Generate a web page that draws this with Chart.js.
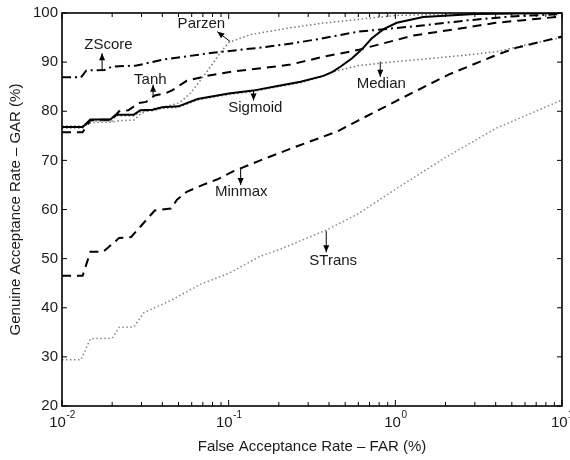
<!DOCTYPE html>
<html>
<head>
<meta charset="utf-8">
<script src="https://cdn.jsdelivr.net/npm/chart.js@4/dist/chart.umd.min.js"></script>
<style>
html,body{margin:0;padding:0;background:#fff;}
#wrap{width:570px;height:460px;}
</style>
</head>
<body>
<div id="wrap"><canvas id="c" width="570" height="460"></canvas></div>
<script>
// ---- data (FAR in %, GAR in %) ----
const sigmoidFAR = [0.01,0.0133,0.0148,0.0195,0.021,0.027,0.0295,0.035,0.04,0.05,0.065,0.1,0.14,0.2,0.27,0.37,0.42,0.47,0.55,0.63,0.72,0.85,1.02,1.47,3,10];
const sigmoidGAR = [76.8,76.8,78.3,78.3,79.3,79.3,80.2,80.3,80.8,81.0,82.5,83.6,84.2,85.2,86.0,87.2,88.0,89.1,90.8,92.6,94.8,96.7,98.0,99.2,99.8,100];

const tanhFAR = [0.01,0.0133,0.0148,0.02,0.022,0.025,0.029,0.032,0.036,0.042,0.046,0.056,0.074,0.107,0.16,0.235,0.36,0.6,1.28,2.4,4,10];
const tanhGAR = [75.7,75.7,78.2,78.3,80.0,80.2,81.7,81.9,83.2,83.7,84.3,86.2,87.2,88.1,88.8,89.5,91.0,92.5,95.4,96.8,98.0,99.3];

const zscoreFAR = [0.01,0.013,0.014,0.018,0.02,0.028,0.04,0.08,0.15,0.25,0.36,0.6,1.4,2.7,5,10];
const zscoreGAR = [86.9,86.9,88.3,88.4,89.1,89.3,90.5,91.9,92.9,93.9,94.8,96.2,97.4,98.5,99.3,99.8];

const parzenFAR = [0.01,0.0133,0.015,0.02,0.022,0.027,0.03,0.036,0.045,0.051,0.059,0.068,0.078,0.089,0.1,0.135,0.235,0.36,1,3,10];
const parzenGAR = [77.0,77.0,77.7,77.8,78.1,78.2,79.6,80.6,81.2,81.8,83.7,86.4,89.1,91.9,94.0,95.6,97.0,97.9,99.5,99.9,100];

const medianFAR = [0.01,0.0133,0.0148,0.02,0.021,0.027,0.03,0.035,0.04,0.05,0.065,0.1,0.14,0.2,0.27,0.35,0.42,0.6,1.0,1.7,2.6,4.2,6,10];
const medianGAR = [76.6,76.6,78.0,78.0,79.1,79.1,80.0,80.1,80.6,80.8,82.3,83.4,84.0,85.0,85.8,86.9,88.0,89.3,90.1,90.8,91.4,92.2,93.5,95.0];

const minmaxFAR = [0.01,0.0133,0.0148,0.0177,0.022,0.026,0.036,0.045,0.049,0.056,0.07,0.085,0.107,0.155,0.24,0.45,0.59,1.07,2.1,3.8,5.3,10];
const minmaxGAR = [46.5,46.5,51.4,51.4,54.2,54.4,59.8,60.2,62.0,63.6,65.0,66.1,67.8,70.0,72.5,75.9,78.0,82.5,87.5,91.1,92.9,95.2];

const stransFAR = [0.01,0.013,0.0148,0.02,0.022,0.027,0.031,0.045,0.068,0.1,0.155,0.2,0.385,0.59,1.0,2.0,4,10];
const stransGAR = [29.4,29.4,33.7,33.8,36.0,36.1,39.0,41.5,44.8,47.0,50.5,51.8,55.8,59.0,64.1,70.6,76.5,82.3];

const xMajorTicks = [0.01, 0.1, 1, 10];
const xMajorExp = ['-2', '-1', '0', '1'];
const xMinorMantissas = [2,3,4,5,6,7,8,9];
const yTicks = [20,30,40,50,60,70,80,90,100];

// annotation texts with arrow (data coordinates)
const notes = [
  {text:'ZScore',  tx:0.019,  ty:93.5, from:[0.0174,88.4], to:[0.0174,91.8]},
  {text:'Parzen',  tx:0.0686, ty:97.8, from:[0.102,94.2],  to:[0.0855,96.2]},
  {text:'Tanh',    tx:0.0339, ty:86.4, from:[0.0352,83.0], to:[0.0352,85.4]},
  {text:'Sigmoid', tx:0.1445, ty:80.7, from:[0.141,84.2],  to:[0.141,82.2]},
  {text:'Median',  tx:0.823,  ty:85.6, from:[0.812,90.1],  to:[0.812,87.0]},
  {text:'Minmax',  tx:0.119,  ty:63.6, from:[0.118,68.5],  to:[0.118,65.0]},
  {text:'STrans',  tx:0.424,  ty:49.5, from:[0.385,55.6],  to:[0.385,51.3]}
];

const pts = (xs, ys) => xs.map((x, i) => ({x: x, y: ys[i]}));
const FONT = "'Liberation Sans', Arial, Helvetica, sans-serif";
const TXT = '#1a1a1a';

const decor = {
  id: 'decor',
  afterDatasetsDraw(chart) {
    const {ctx, chartArea: a, scales: {x, y}} = chart;
    ctx.save();
    // frame
    ctx.strokeStyle = '#000';
    ctx.lineWidth = 1.6;
    ctx.strokeRect(a.left, a.top, a.right - a.left, a.bottom - a.top);
    // tick marks
    ctx.lineWidth = 1;
    const seg = (x0, y0, x1, y1) => { ctx.beginPath(); ctx.moveTo(x0, y0); ctx.lineTo(x1, y1); ctx.stroke(); };
    xMajorTicks.forEach((v, i) => {
      const px = x.getPixelForValue(v);
      seg(px, a.bottom, px, a.bottom - 6);
      seg(px, a.top, px, a.top + 6);
      if (i < xMajorTicks.length - 1) {
        xMinorMantissas.forEach(m => {
          const q = x.getPixelForValue(v * m);
          seg(q, a.bottom, q, a.bottom - 4);
          seg(q, a.top, q, a.top + 4);
        });
      }
    });
    yTicks.forEach(v => {
      const py = y.getPixelForValue(v);
      seg(a.left, py, a.left + 5, py);
      seg(a.right, py, a.right - 5, py);
    });
    // x tick labels 10^n
    ctx.fillStyle = TXT;
    ctx.textBaseline = 'alphabetic';
    xMajorTicks.forEach((v, i) => {
      const px = x.getPixelForValue(v);
      ctx.font = '15px ' + FONT;
      const wb = ctx.measureText('10').width;
      ctx.font = '10px ' + FONT;
      const we = ctx.measureText(xMajorExp[i]).width;
      const x0 = px - (wb + we) / 2;
      ctx.font = '15px ' + FONT;
      ctx.textAlign = 'left';
      ctx.fillText('10', x0, a.bottom + 21);
      ctx.font = '10px ' + FONT;
      ctx.fillText(xMajorExp[i], x0 + wb + 0.5, a.bottom + 12);
    });
    // annotations
    ctx.font = '15px ' + FONT;
    ctx.textAlign = 'center';
    ctx.textBaseline = 'middle';
    notes.forEach(n => {
      ctx.fillStyle = TXT;
      ctx.fillText(n.text, x.getPixelForValue(n.tx), y.getPixelForValue(n.ty));
      const x0 = x.getPixelForValue(n.from[0]), y0 = y.getPixelForValue(n.from[1]);
      const x1 = x.getPixelForValue(n.to[0]), y1 = y.getPixelForValue(n.to[1]);
      ctx.strokeStyle = '#000';
      ctx.fillStyle = '#000';
      ctx.lineWidth = 1;
      seg(x0, y0, x1, y1);
      const ang = Math.atan2(y1 - y0, x1 - x0);
      const L = 7, W = 3;
      ctx.beginPath();
      ctx.moveTo(x1, y1);
      ctx.lineTo(x1 - L * Math.cos(ang) + W * Math.sin(ang), y1 - L * Math.sin(ang) - W * Math.cos(ang));
      ctx.lineTo(x1 - L * Math.cos(ang) - W * Math.sin(ang), y1 - L * Math.sin(ang) + W * Math.cos(ang));
      ctx.closePath();
      ctx.fill();
    });
    ctx.restore();
  }
};

const solid = [];
const dashed = [9, 6];
const dashDot = [9, 4, 2, 4];
const dotted = [1.5, 2.5];

new Chart(document.getElementById('c'), {
  type: 'line',
  data: {
    datasets: [
      {label: 'Sigmoid', data: pts(sigmoidFAR, sigmoidGAR), borderColor: '#000', borderWidth: 2, borderDash: solid},
      {label: 'Tanh', data: pts(tanhFAR, tanhGAR), borderColor: '#000', borderWidth: 2, borderDash: dashed},
      {label: 'ZScore', data: pts(zscoreFAR, zscoreGAR), borderColor: '#000', borderWidth: 2, borderDash: dashDot},
      {label: 'Minmax', data: pts(minmaxFAR, minmaxGAR), borderColor: '#000', borderWidth: 2, borderDash: dashed},
      {label: 'Parzen', data: pts(parzenFAR, parzenGAR), borderColor: '#777', borderWidth: 1.5, borderDash: dotted},
      {label: 'Median', data: pts(medianFAR, medianGAR), borderColor: '#777', borderWidth: 1.5, borderDash: dotted},
      {label: 'STrans', data: pts(stransFAR, stransGAR), borderColor: '#888', borderWidth: 1.5, borderDash: dotted}
    ]
  },
  options: {
    responsive: false,
    animation: false,
    events: [],
    layout: {padding: {left: 0, top: 13, right: 8, bottom: 0}},
    elements: {point: {radius: 0}, line: {tension: 0, fill: false}},
    plugins: {legend: {display: false}, tooltip: {enabled: false}},
    scales: {
      x: {
        type: 'logarithmic',
        min: 0.01, max: 10,
        grid: {display: false, drawTicks: false},
        border: {display: false},
        ticks: {display: false},
        title: {display: true, text: 'False Acceptance Rate – FAR (%)', color: TXT,
                font: {family: FONT, size: 15}, padding: {top: 0, bottom: 4}},
        afterFit(s) { s.height = 54; }
      },
      y: {
        type: 'linear',
        min: 20, max: 100,
        grid: {display: false, drawTicks: false},
        border: {display: false},
        ticks: {stepSize: 10, color: TXT, padding: 4, font: {family: FONT, size: 15}},
        title: {display: true, text: 'Genuine Acceptance Rate – GAR (%)', color: TXT,
                font: {family: FONT, size: 15}, padding: {top: 7, bottom: 0}},
        afterFit(s) { s.width = 62; }
      }
    }
  },
  plugins: [decor]
});
</script>
</body>
</html>
